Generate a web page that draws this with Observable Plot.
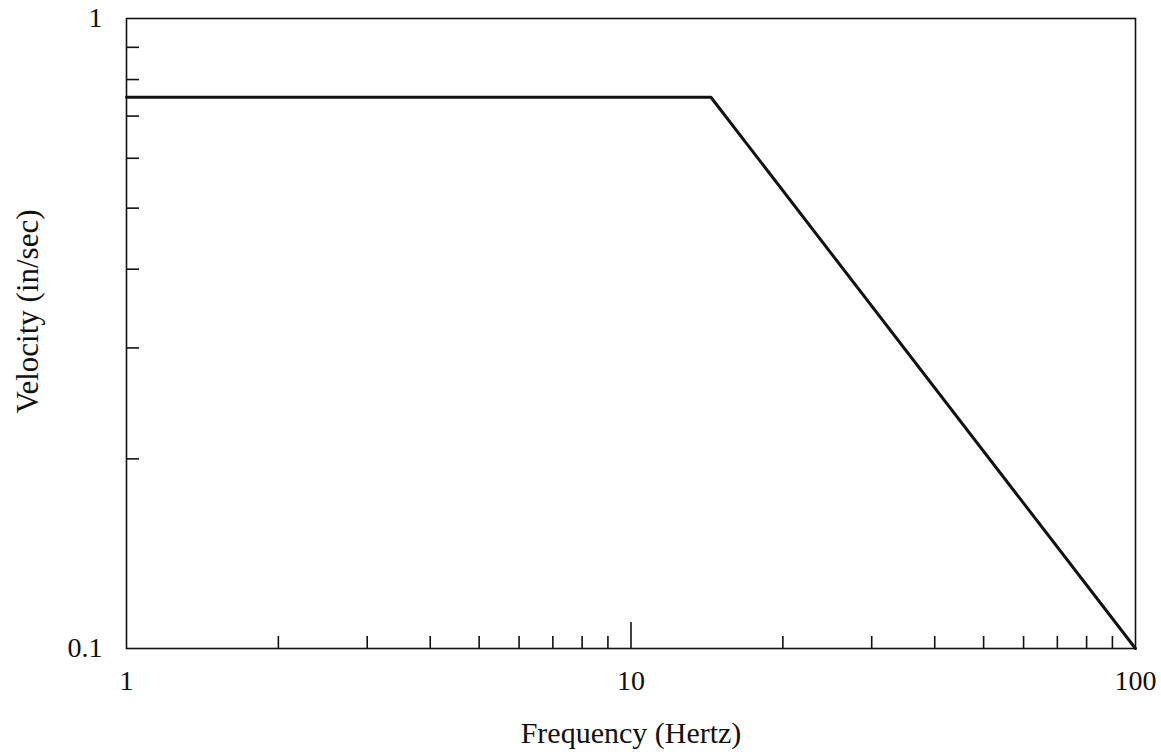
<!DOCTYPE html>
<html>
<head>
<meta charset="utf-8">
<script src="https://cdn.jsdelivr.net/npm/d3@7"></script>
<script src="https://cdn.jsdelivr.net/npm/@observablehq/plot@0.6"></script>
<style>
  html, body { margin: 0; padding: 0; background: #fff; }
  #chart { width: 1161px; height: 756px; }
</style>
</head>
<body>
<div id="chart"></div>
<script>
// Data
const frequency = [1, 14.4, 100];          // Hz
const velocity  = [0.75, 0.75, 0.1];       // in/sec

const xLabelTicks = [1, 10, 100];
const xMinorTicks = [2, 3, 4, 5, 6, 7, 8, 9, 20, 30, 40, 50, 60, 70, 80, 90];
const xMajorInnerTicks = [10];
const yLabelTicks = [0.1, 1];
const yMinorTicks = [0.2, 0.3, 0.4, 0.5, 0.6, 0.7, 0.8, 0.9];
const xTitle = "Frequency (Hertz)";
const yTitle = "Velocity (in/sec)";

const data = frequency.map((f, i) => ({f, v: velocity[i]}));
const font = "'Liberation Serif', 'Times New Roman', serif";

const chart = Plot.plot({
  width: 1161,
  height: 756,
  marginLeft: 126,
  marginRight: 26,
  marginTop: 18,
  marginBottom: 108,
  style: {fontFamily: font, background: "#fff", color: "#111"},
  x: {type: "log", domain: [1, 100], axis: null},
  y: {type: "log", domain: [0.1, 1], axis: null},
  marks: [
    Plot.frame({stroke: "#111", strokeWidth: 1.6}),
    // inward minor ticks
    Plot.axisX(xMinorTicks, {anchor: "bottom", label: null, tickSize: -12, tickFormat: () => "", strokeWidth: 1.6, stroke: "#111"}),
    Plot.axisX(xMajorInnerTicks, {anchor: "bottom", label: null, tickSize: -26, tickFormat: () => "", strokeWidth: 1.6, stroke: "#111"}),
    Plot.axisY(yMinorTicks, {anchor: "left", label: null, tickSize: -13, tickFormat: () => "", strokeWidth: 1.6, stroke: "#111"}),
    // labels
    Plot.axisX(xLabelTicks, {anchor: "bottom", label: null, tickSize: 0, tickPadding: 22, tickFormat: d => String(d), fontSize: 28, fill: "#111"}),
    Plot.axisY(yLabelTicks, {anchor: "left", label: null, tickSize: 0, tickPadding: 24, tickFormat: d => String(d), fontSize: 28, fill: "#111"}),
    // data line
    Plot.line(data, {x: "f", y: "v", stroke: "#111", strokeWidth: 3}),
    // titles
    Plot.text([xTitle], {text: d => d, frameAnchor: "bottom", textAnchor: "middle", dy: 94, fontSize: 30, fill: "#111"}),
    Plot.text([yTitle], {text: d => d, frameAnchor: "left", textAnchor: "middle", dx: -98, dy: -22, rotate: -90, fontSize: 31, fill: "#111"})
  ]
});
document.getElementById("chart").appendChild(chart);
</script>
</body>
</html>
